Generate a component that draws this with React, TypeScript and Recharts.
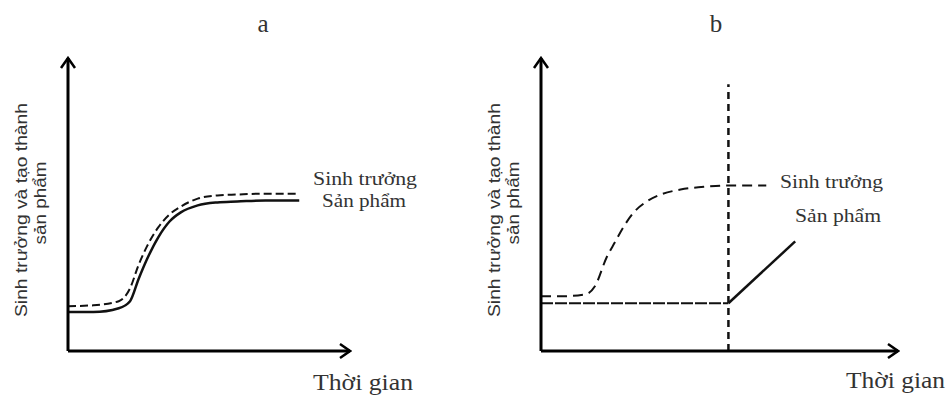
import { LineChart, Line, XAxis, YAxis, ReferenceLine } from 'recharts';

// panel a: growth and product formation run together
const A_TIME = [0, 9, 18, 22, 25, 28, 32, 36, 40, 46, 53, 60, 70, 82];
const A_GROWTH = [15.3, 15.6, 17.0, 21.4, 29.3, 35.7, 42.2, 46.6, 49.3, 52.0, 53.1, 53.4, 53.7, 53.7];
const A_PRODUCT = [13.3, 13.3, 14.6, 17.0, 24.5, 31.3, 38.8, 44.2, 47.3, 49.7, 50.7, 51.0, 51.4, 51.4];

// panel b: product starts after growth stops
const B_GROWTH_T = [0, 6.1, 12.6, 15.1, 18.4, 20.7, 23.2, 26.0, 29.6, 33.5, 39.1, 46.4, 52.5, 63.1];
const B_GROWTH = [18.7, 18.7, 19.4, 22.1, 32.0, 37.1, 42.5, 47.3, 51.0, 53.4, 55.1, 56.1, 56.5, 56.5];
const B_PRODUCT_T = [0, 52.5, 71.2];
const B_PRODUCT = [16.3, 16.3, 37.4];
const B_SWITCH = [52.5, 0, 91]; // time, bottom, top of the divider

const TITLES = ['a', 'b'];
const Y_LABEL = ['Sinh trưởng và tạo thành', 'sản phẩm'];
const X_LABEL = 'Thời gian';
const SERIES_NAMES = ['Sinh trưởng', 'Sản phẩm'];

const INK = '#111';
const TEXT = '#333';
const SERIF = '"Liberation Serif", "Times New Roman", serif';
const SANS = '"Liberation Sans", Arial, sans-serif';

const zip = (t: number[], v: number[]) => t.map((x, i) => ({ t: x, v: v[i] }));

const aGrowth = zip(A_TIME, A_GROWTH);
const aProduct = zip(A_TIME, A_PRODUCT);
const bGrowth = zip(B_GROWTH_T, B_GROWTH);
const bProduct = zip(B_PRODUCT_T, B_PRODUCT);

const xAxisLine = { stroke: '#000', strokeWidth: 3, markerEnd: 'url(#arrowEnd)' };
const yAxisLine = { stroke: '#000', strokeWidth: 3, markerStart: 'url(#arrowStart)' };

export default function App() {
  const chartBox = { position: 'absolute' as const, top: 0 };
  return (
    <div
      style={{
        position: 'absolute',
        left: 0,
        top: 0,
        width: 946,
        height: 395,
        background: '#fff',
        overflow: 'hidden',
      }}
    >
      <svg width={0} height={0} style={{ position: 'absolute' }}>
        <defs>
          <marker
            id="arrowEnd"
            viewBox="-12 -10 14 20"
            refX={0}
            refY={0}
            markerWidth={14}
            markerHeight={20}
            markerUnits="userSpaceOnUse"
            orient="auto"
          >
            <path d="M-10,-7 L0,0 L-10,7" fill="none" stroke="#000" strokeWidth={2.5} />
          </marker>
          <marker
            id="arrowStart"
            viewBox="-12 -10 14 20"
            refX={0}
            refY={0}
            markerWidth={14}
            markerHeight={20}
            markerUnits="userSpaceOnUse"
            orient="auto-start-reverse"
          >
            <path d="M-10,-7 L0,0 L-10,7" fill="none" stroke="#000" strokeWidth={2.5} />
          </marker>
        </defs>
      </svg>

      <div style={{ ...chartBox, left: 0 }}>
        <LineChart width={473} height={395} margin={{ top: 58, right: 123, bottom: 43, left: 67 }}>
          <XAxis
            type="number"
            dataKey="t"
            domain={[0, 100]}
            height={1}
            tick={false}
            tickLine={false}
            axisLine={xAxisLine}
          />
          <YAxis
            type="number"
            dataKey="v"
            domain={[0, 100]}
            width={1}
            tick={false}
            tickLine={false}
            axisLine={yAxisLine}
          />
          <Line
            data={aGrowth}
            dataKey="v"
            type="monotone"
            stroke={INK}
            strokeWidth={2}
            strokeDasharray="8 4"
            dot={false}
            isAnimationActive={false}
          />
          <Line
            data={aProduct}
            dataKey="v"
            type="monotone"
            stroke={INK}
            strokeWidth={2.5}
            dot={false}
            isAnimationActive={false}
          />
        </LineChart>
      </div>

      <div style={{ ...chartBox, left: 473 }}>
        <LineChart width={473} height={395} margin={{ top: 58, right: 48, bottom: 43, left: 67 }}>
          <XAxis
            type="number"
            dataKey="t"
            domain={[0, 100]}
            height={1}
            tick={false}
            tickLine={false}
            axisLine={xAxisLine}
          />
          <YAxis
            type="number"
            dataKey="v"
            domain={[0, 100]}
            width={1}
            tick={false}
            tickLine={false}
            axisLine={yAxisLine}
          />
          <ReferenceLine
            segment={[
              { x: B_SWITCH[0], y: B_SWITCH[1] },
              { x: B_SWITCH[0], y: B_SWITCH[2] },
            ]}
            stroke={INK}
            strokeWidth={2.5}
            strokeDasharray="7 5"
            ifOverflow="visible"
          />
          <Line
            data={bGrowth}
            dataKey="v"
            type="monotone"
            stroke={INK}
            strokeWidth={2}
            strokeDasharray="10 6"
            dot={false}
            isAnimationActive={false}
          />
          <Line
            data={bProduct.slice(0, 2)}
            dataKey="v"
            type="linear"
            stroke={INK}
            strokeWidth={2}
            strokeDasharray="12 2"
            dot={false}
            isAnimationActive={false}
          />
          <Line
            data={bProduct.slice(1)}
            dataKey="v"
            type="linear"
            stroke={INK}
            strokeWidth={2.5}
            dot={false}
            isAnimationActive={false}
          />
        </LineChart>
      </div>

      <svg
        width={946}
        height={395}
        style={{ position: 'absolute', left: 0, top: 0, pointerEvents: 'none' }}
      >
        {[0, 473].map((dx, i) => (
          <g key={i} transform={`translate(${dx},0)`}>
            <text x={i === 0 ? 263 : 243} y={32} fontFamily={SERIF} fontSize={25} fill={TEXT} textAnchor="middle">
              {TITLES[i]}
            </text>
            <text
              transform="translate(27,210) rotate(-90)"
              fontFamily={SANS}
              fontSize={17}
              fill={TEXT}
              textAnchor="middle"
              textLength={214}
              lengthAdjust="spacingAndGlyphs"
            >
              {Y_LABEL[0]}
            </text>
            <text
              transform="translate(46,203) rotate(-90)"
              fontFamily={SANS}
              fontSize={17}
              fill={TEXT}
              textAnchor="middle"
              textLength={83}
              lengthAdjust="spacingAndGlyphs"
            >
              {Y_LABEL[1]}
            </text>
          </g>
        ))}

        <text x={313} y={390} fontFamily={SERIF} fontSize={23} fill={TEXT} textLength={100} lengthAdjust="spacingAndGlyphs">
          {X_LABEL}
        </text>
        <text x={846} y={388} fontFamily={SERIF} fontSize={23} fill={TEXT} textLength={99} lengthAdjust="spacingAndGlyphs">
          {X_LABEL}
        </text>

        <text x={313} y={185} fontFamily={SERIF} fontSize={19} fill={TEXT} textLength={104} lengthAdjust="spacingAndGlyphs">
          {SERIES_NAMES[0]}
        </text>
        <text x={322} y={207} fontFamily={SERIF} fontSize={19} fill={TEXT} textLength={84} lengthAdjust="spacingAndGlyphs">
          {SERIES_NAMES[1]}
        </text>
        <text x={780} y={188} fontFamily={SERIF} fontSize={19} fill={TEXT} textLength={103} lengthAdjust="spacingAndGlyphs">
          {SERIES_NAMES[0]}
        </text>
        <text x={795} y={222} fontFamily={SERIF} fontSize={19} fill={TEXT} textLength={86} lengthAdjust="spacingAndGlyphs">
          {SERIES_NAMES[1]}
        </text>
      </svg>
    </div>
  );
}
